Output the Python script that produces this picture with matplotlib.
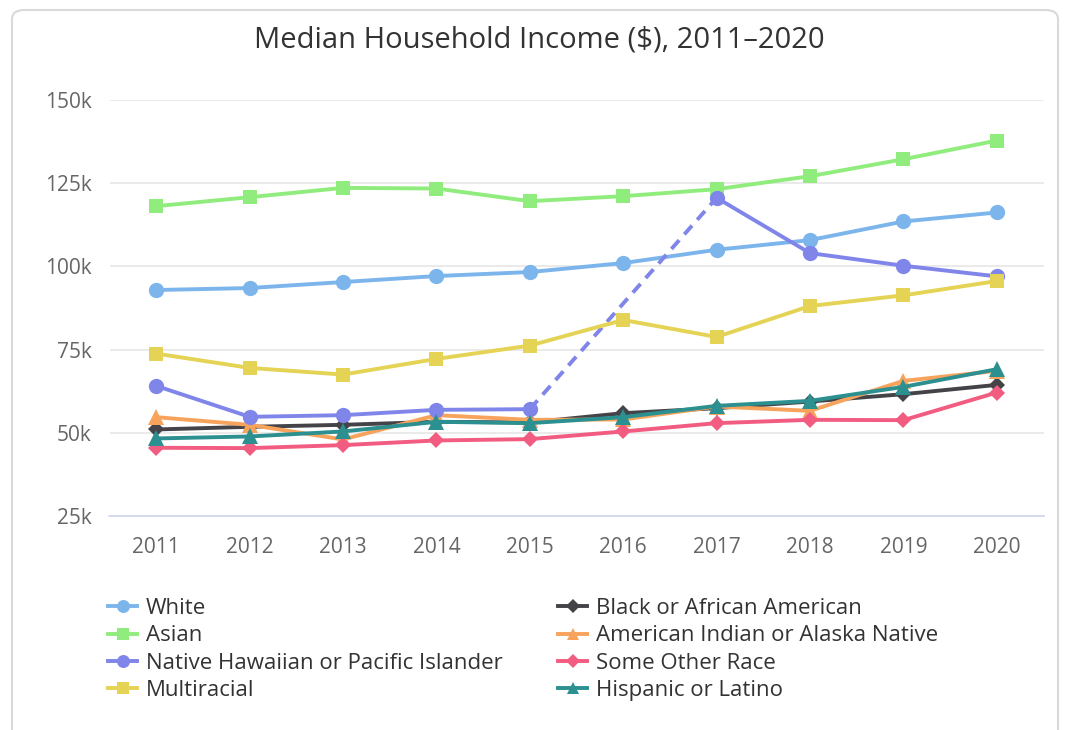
import numpy as np
import matplotlib
matplotlib.use("Agg")
import matplotlib.pyplot as plt
from matplotlib.patches import FancyBboxPatch
from matplotlib.lines import Line2D

years = [2011, 2012, 2013, 2014, 2015, 2016, 2017, 2018, 2019, 2020]
white = [92.9, 93.5, 95.3, 97.1, 98.3, 101.0, 105.0, 107.9, 113.5, 116.2]
black = [51.0, 51.8, 52.4, 53.3, 53.1, 55.9, 57.4, 59.4, 61.6, 64.4]
asian = [118.1, 120.8, 123.6, 123.4, 119.6, 121.1, 123.2, 127.1, 132.2, 137.8]
aian = [54.7, 52.4, 48.0, 55.3, 53.9, 54.0, 57.9, 56.6, 65.6, 68.6]
nhpi = [64.1, 54.8, 55.3, 56.9, 57.1, np.nan, 120.6, 104.0, 100.2, 97.0]
other = [45.5, 45.4, 46.3, 47.7, 48.1, 50.4, 52.9, 53.9, 53.8, 62.1]
multi = [73.8, 69.5, 67.5, 72.2, 76.2, 83.9, 78.8, 88.1, 91.3, 95.6]
hispanic = [48.3, 48.9, 50.4, 53.3, 52.9, 54.7, 58.1, 59.6, 63.8, 69.1]

series = [
    ("White", white, "#7cb5ec", "o"),
    ("Black or African American", black, "#434348", "D"),
    ("Asian", asian, "#90ed7d", "s"),
    ("American Indian or Alaska Native", aian, "#f7a35c", "^"),
    ("Native Hawaiian or Pacific Islander", nhpi, "#8085e9", "o"),
    ("Some Other Race", other, "#f15c80", "D"),
    ("Multiracial", multi, "#e4d354", "s"),
    ("Hispanic or Latino", hispanic, "#2b908f", "^"),
]
marker_sizes = {"o": 11, "s": 10.5, "D": 8, "^": 11}

W, H = 1065, 730
plt.rcParams["font.family"] = ["Open Sans", "DejaVu Sans"]
fig = plt.figure(figsize=(W / 100, H / 100), dpi=100)
fig.patch.set_facecolor("white")

card = FancyBboxPatch((12 / W, -0.05), (1058 - 12) / W, (730 - 10) / H + 0.05,
                      boxstyle="round,pad=0,rounding_size=0.012",
                      transform=fig.transFigure, facecolor="none",
                      edgecolor="#d9d9d9", linewidth=1.5, zorder=-5)
fig.patches.append(card)

ax = fig.add_axes([109.5 / W, 1 - 516 / H, (1043.5 - 109.5) / W, (516 - 100) / H])
ax.set_facecolor("none")
x = np.arange(len(years))
ax.set_xlim(-0.5, len(years) - 0.5)
ax.set_ylim(25, 150)
yt = [25, 50, 75, 100, 125, 150]
ax.set_yticks(yt)
ax.set_yticklabels([f"{v}k" for v in yt])
ax.set_xticks(x)
ax.set_xticklabels([str(y) for y in years])
ax.grid(axis="y", color="#e6e6e6", linewidth=1.2)
ax.set_axisbelow(True)
for s in ["top", "right", "left"]:
    ax.spines[s].set_visible(False)
ax.spines["bottom"].set_color("#ccd6eb")
ax.spines["bottom"].set_linewidth(1.2)
ax.tick_params(axis="both", length=0, colors="#666666", labelsize=15)
ax.tick_params(axis="y", pad=13)
ax.tick_params(axis="x", pad=15)

handles = []
for i, (name, vals, col, mk) in enumerate(series):
    v = np.array(vals, dtype=float)
    ms = marker_sizes[mk]
    nan_idx = np.where(np.isnan(v))[0]
    for j in nan_idx:
        a, b = j - 1, j + 1
        ax.plot([x[a], x[b]], [v[a], v[b]], color=col, linewidth=2.8,
                linestyle=(0, (3, 2)), zorder=2 + i, solid_capstyle="butt")
    ax.plot(x, v, color=col, linewidth=2.8, marker=mk, markersize=ms,
            markeredgewidth=0, zorder=2 + i, clip_on=False)
    handles.append(Line2D([0], [0], color=col, linewidth=2.8, marker=mk,
                          markersize=ms * 0.85, markeredgewidth=0))

fig.text(539 / W, 1 - 40 / H, "Median Household Income ($), 2011–2020",
         ha="center", va="center", fontsize=21, color="#333333")

order = [0, 2, 4, 6, 1, 3, 5, 7]
labels = [series[k][0] for k in order]
leg = fig.legend([handles[k] for k in order], labels, ncol=2, loc="upper left",
                 bbox_to_anchor=(97 / W, 1 - 587 / H), frameon=False,
                 fontsize=16, labelcolor="#333333", handlelength=1.3,
                 handletextpad=0.4, columnspacing=2.5, labelspacing=0.28,
                 borderpad=0)

fig.savefig("out.png", dpi=100, facecolor="white")
